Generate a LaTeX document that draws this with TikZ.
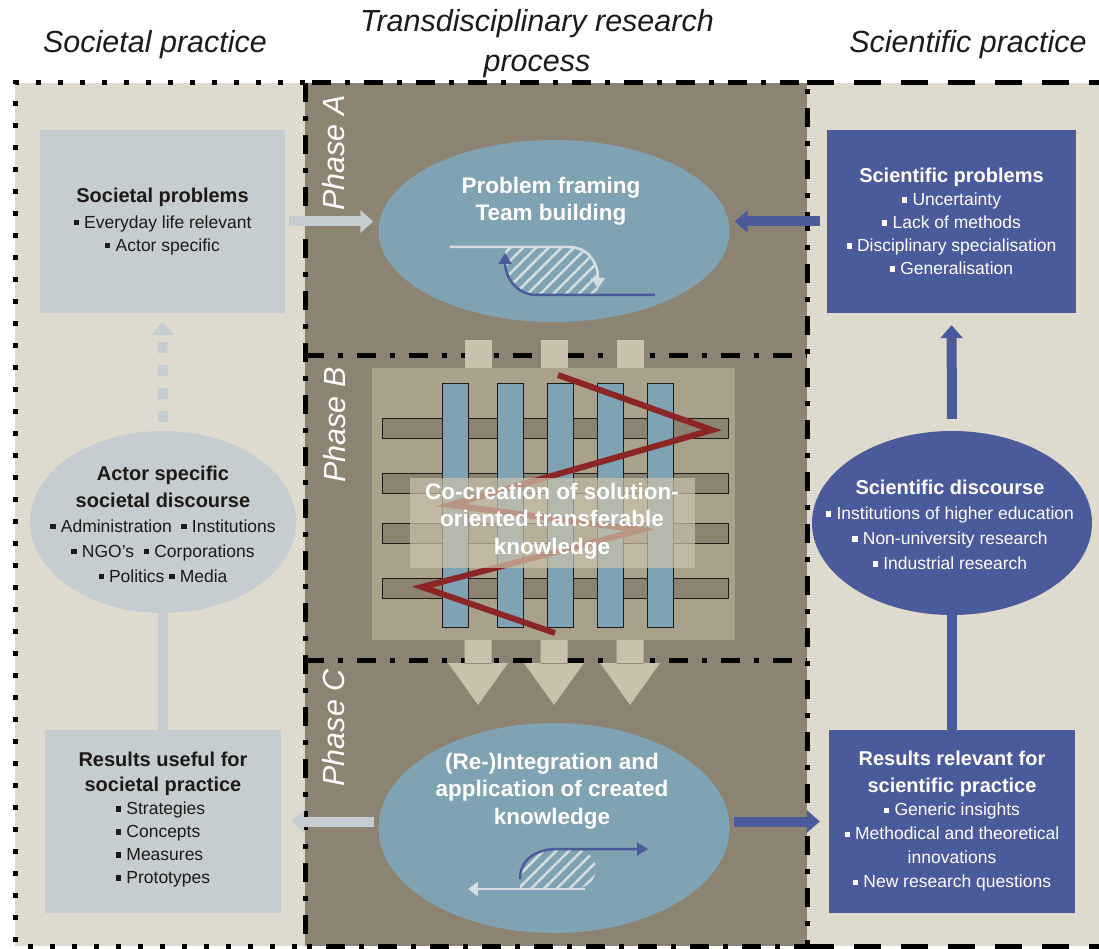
\documentclass[tikz,border=0pt]{standalone}
\usepackage{fontspec}
\setmainfont{Liberation Sans}
\usetikzlibrary{positioning}
\usetikzlibrary{shapes.geometric}
\usetikzlibrary{arrows.meta}
\usetikzlibrary{patterns.meta}
\pgfdeclarelayer{background}
\pgfdeclarelayer{foreground}
\pgfsetlayers{background,main,foreground}

\definecolor{beige}{RGB}{222,219,206}
\definecolor{band}{RGB}{141,131,114}
\definecolor{pale}{RGB}{197,205,208}
\definecolor{steel}{RGB}{128,163,179}
\definecolor{navy}{RGB}{75,90,155}
\definecolor{weave}{RGB}{170,161,141}
\definecolor{sand}{RGB}{201,193,171}
\definecolor{wine}{RGB}{140,38,38}
\definecolor{ink}{RGB}{30,26,24}
\definecolor{hatch}{RGB}{212,221,224}

\newcommand{\headerfont}{\fontsize{30.5}{40}\selectfont\itshape}
\newcommand{\itemfont}{\fontsize{17.5}{23}\selectfont}
\newcommand{\discfont}{\fontsize{17.5}{25}\selectfont}
\newcommand{\phasefont}{\fontsize{22.5}{27.5}\selectfont\bfseries}
\newcommand{\titl}[1]{{\fontsize{20}{24}\selectfont\bfseries #1}}
\newcommand{\bsq}{\rule[0.18em]{0.3em}{0.3em}\hspace{0.3em}}

\begin{document}
\begin{tikzpicture}[x=1pt,y=-1pt,
						header/.style={font=\headerfont, text=ink, align=center, inner sep=0pt},
						palebox/.style={rectangle, fill=pale, text=ink, inner sep=0pt, minimum height=183pt, align=center, font=\itemfont},
						navybox/.style={rectangle, fill=navy, text=white, inner sep=0pt, minimum height=183pt, align=center, font=\itemfont},
						disc/.style={ellipse, inner sep=0pt},
						phasenode/.style={ellipse, fill=steel, inner sep=0pt, minimum width=351pt},
						phaselabel/.style={rotate=90, text=white, font=\headerfont, inner sep=0pt},
						whitetext/.style={text=white, align=center, font=\phasefont, inner sep=0pt},
						palearrow/.style={draw=pale, line width=10pt, -{Triangle[length=13pt,width=22pt]}},
						navyarrow/.style={draw=navy, line width=10pt, -{Triangle[length=13pt,width=22pt]}},
						dotborder/.style={draw=black, line width=5pt, dash pattern=on 5pt off 17pt},
						dashborder/.style={draw=black, line width=5pt, dash pattern=on 27pt off 20pt},
						dashdotborder/.style={draw=black, line width=5pt, dash pattern=on 19pt off 14pt on 5pt off 14pt},
						hbar/.style={fill=band, draw=ink, line width=0.8pt},
						vbar/.style={fill=steel, draw=ink, line width=0.8pt},
						zigzag/.style={draw=wine, line width=6pt, line join=miter},
						hatchfill/.style={pattern={Lines[angle=45,distance=9pt,line width=2.5pt]}, pattern color=hatch},
						icowhite/.style={draw=hatch, line width=2.5pt, -{Triangle[length=10pt,width=14pt]}},
						icoblue/.style={draw=navy, line width=2.5pt, -{Triangle[length=11pt,width=13pt]}},
						]
						\useasboundingbox (0,0) rectangle (1099,949);
						
						%Headers
						\node[header]      (hsoc)   at  (155,45)     {Societal practice};
						\node[header]      (htrans) at  (537,44)     {Transdisciplinary research\\process};
						\node[header]      (hsci)   at  (968,45)     {Scientific practice};
						
						%Weave of phase B
						\fill[weave] (372,368) rectangle (735,640);
						\foreach \x in {478,554,630}{
							\fill[sand] (\x-13.5,340) rectangle (\x+13.5,368);
							\fill[sand] (\x-13.5,640) rectangle (\x+13.5,664) (\x-30,663) -- (\x+30,663) -- (\x,705) -- cycle;
						}
						\foreach \y in {418,473,523,578}
							\draw[hbar] (382,\y) rectangle (728,\y+20);
						\foreach \x in {442,497,547,597,647}
							\draw[vbar] (\x,383) rectangle (\x+26,627);
						\draw[zigzag] (558,375) -- (712,430) -- (450,505) -- (640,530) -- (422,587) -- (555,633);
						\fill[sand, opacity=0.72] (410,478) rectangle (695,568);
						
						%Nodes
						\node[palebox, minimum width=245pt]  (socprob)  at  (162.5,221.5)  {\titl{Societal problems}\\[3pt] \bsq Everyday life relevant\\ \bsq Actor specific};
						\node[palebox, minimum width=236pt]  (socres)   at  (163,821.5)    {\titl{Results useful for}\\[2pt] \titl{societal practice}\\ \begin{tabular}[t]{@{}l@{}}\bsq Strategies\\ \bsq Concepts\\ \bsq Measures\\ \bsq Prototypes\end{tabular}};
						\node[navybox, minimum width=249pt]  (sciprob)  at  (951.5,221.5)  {\titl{Scientific problems}\\ \bsq Uncertainty\\ \bsq Lack of methods\\ \bsq Disciplinary specialisation\\ \bsq Generalisation};
						\node[navybox, minimum width=246pt]  (scires)   at  (952,821.5)    {\titl{Results relevant for}\\[4pt] \titl{scientific practice}\\ \bsq Generic insights\\[1pt] \bsq Methodical and theoretical\\[1pt] innovations\\[1pt] \bsq New research questions};
						\node[disc, fill=pale, minimum width=266pt, minimum height=182pt]  (actor)    at  (163,522)  {};
						\node[disc, fill=navy, minimum width=280pt, minimum height=184pt]  (scidisc)  at  (952,523)  {};
						\node[phasenode, minimum height=182pt]  (phaseA)  at  (554,231)  {};
						\node[phasenode, minimum height=210pt]  (phaseC)  at  (554,828)  {};
						
						\node[text=ink, align=center, font=\discfont, inner sep=0pt]    (actortxt)  at  (163,524)  {\titl{Actor specific}\\[2pt] \titl{societal discourse}\\ \bsq Administration \ \bsq Institutions\\ \bsq NGO's \ \bsq Corporations\\ \bsq Politics \bsq Media};
						\node[text=white, align=center, font=\discfont, inner sep=0pt]  (scitxt)    at  (950,525)  {\titl{Scientific discourse}\\ \bsq Institutions of higher education\\ \bsq Non-university research\\ \bsq Industrial research};
						\node[whitetext]  (phaseAtxt)  at  (551,201)  {Problem framing\\Team building};
						\node[whitetext]  (cocreate)   at  (552,521)  {Co-creation of solution-\\oriented transferable\\knowledge};
						\node[whitetext]  (phaseCtxt)  at  (552,791)  {(Re-)Integration and\\application of created\\knowledge};
						
						\node[phaselabel]  (labA)  at  (334,153)  {Phase A};
						\node[phaselabel]  (labB)  at  (335,425)  {Phase B};
						\node[phaselabel]  (labC)  at  (334,728)  {Phase C};
						
						%Icons
						\fill[hatchfill] (505,247) -- (568,247) .. controls (588,247) and (598,262) .. (598,280) -- (598,295) -- (537,295) .. controls (515,295) and (505,275) .. (505,253) -- cycle;
						\draw[icowhite] (450,247) -- (568,247) .. controls (588,247) and (598,262) .. (598,288);
						\draw[icoblue] (655,295) -- (537,295) .. controls (515,295) and (505,275) .. (505,253);
						\fill[hatchfill] (520,889) -- (520,879) .. controls (520,860) and (535,849) .. (558,849) -- (572,849) .. controls (604,849) and (604,889) .. (572,889) -- cycle;
						\draw[icoblue] (520,879) .. controls (520,860) and (535,849) .. (558,849) -- (648,849);
						\draw[icowhite] (585,889) -- (468,889);
						
						%Lines
						\draw[palearrow, shorten <=4pt, shorten >=5pt] (socprob.east) -- (socprob.east -| phaseA.west);
						\draw[navyarrow, shorten <=7pt, shorten >=5pt] (sciprob.west) -- (sciprob.west -| phaseA.east);
						\draw[palearrow, shorten <=4pt, shorten >=10pt] (socres.east -| phaseC.west) -- (socres.east);
						\draw[navyarrow, shorten <=4pt, shorten >=9pt] (scires.west -| phaseC.east) -- (scires.west);
						\draw[palearrow, dash pattern=on 11pt off 12pt, shorten <=9pt, shorten >=9pt] (actor.north) -- (socprob.south);
						\draw[navyarrow, shorten <=12pt, shorten >=12pt] (scidisc.north) -- (sciprob.south);
						\draw[draw=pale, line width=10pt] (actor.south) -- (socres.north);
						\draw[draw=navy, line width=10pt] (scidisc.south) -- (scires.north);
						
						\begin{pgfonlayer}{background}
						%Regions
						\fill[beige] (15,83) rectangle (305,946);
						\fill[band] (305,83) rectangle (807,946);
						\fill[beige] (807,83) rectangle (1099,946);
						\draw[dotborder] (305,83) -- (15,83) -- (15,946) -- (305,946);
						\draw[dashborder] (807,83) -- (1099,83);
						\draw[dashborder] (807,946) -- (1099,946);
						\draw[dashdotborder] (305,83) rectangle (807,946);
						\draw[dashdotborder] (305,355) -- (807,355);
						\draw[dashdotborder] (305,660) -- (807,660);
						\end{pgfonlayer}
					\end{tikzpicture}
\end{document}
